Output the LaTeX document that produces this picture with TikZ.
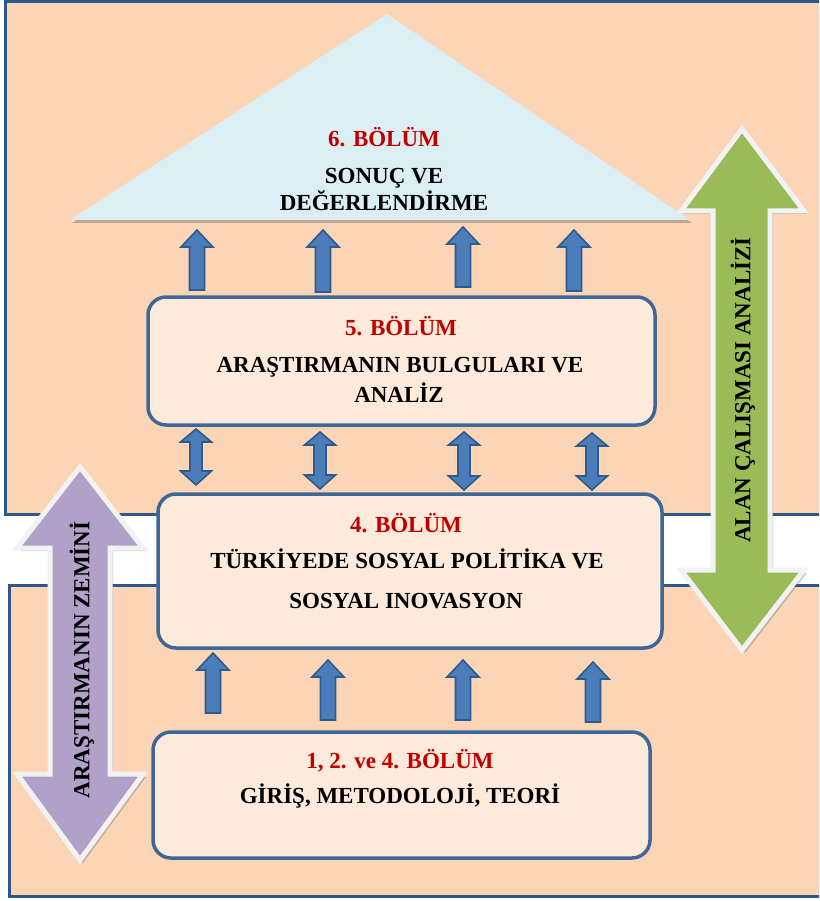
\documentclass[tikz,border=0pt]{standalone}
\usepackage{fontspec}
\setmainfont{Liberation Serif}
\usetikzlibrary{shadows}
\definecolor{peach}{HTML}{FBD5B5}
\definecolor{boxfill}{HTML}{FDEADA}
\definecolor{frameblue}{HTML}{2F5788}
\definecolor{boxblue}{HTML}{3D6797}
\definecolor{arrblue}{HTML}{4A7DBA}
\definecolor{arrline}{HTML}{2F5A8C}
\definecolor{trifill}{HTML}{DAEEF3}
\definecolor{grn}{HTML}{9BBB59}
\definecolor{prp}{HTML}{B1A0C7}
\definecolor{redtxt}{HTML}{C00000}
\definecolor{wline}{HTML}{F2F2F2}
\newcommand\UpBlk[3]{\draw[blk] (#1,#2) -- ({#1+16},{#2+17}) -- ({#1+7.5},{#2+17}) -- ({#1+7.5},#3) -- ({#1-7.5},#3) -- ({#1-7.5},{#2+17}) -- ({#1-16},{#2+17}) -- cycle;}
\newcommand\DblBlk[3]{\draw[blk] (#1,#2) -- ({#1+15.5},{#2+13}) -- ({#1+6},{#2+13}) -- ({#1+6},{#3-14}) -- ({#1+15.5},{#3-14}) -- (#1,#3) -- ({#1-15.5},{#3-14}) -- ({#1-6},{#3-14}) -- ({#1-6},{#2+13}) -- ({#1-15.5},{#2+13}) -- cycle;}
\begin{document}
\begin{tikzpicture}[x=1pt,y=-1pt,
  frame/.style={draw=frameblue, line width=3pt, fill=peach},
  chapbox/.style={draw=boxblue, line width=3.5pt, fill=boxfill, rounded corners=18pt, inner sep=0pt},
  blk/.style={fill=arrblue, draw=arrline, line width=1.6pt, line join=miter},
  bigarr/.style={draw=wline, line width=5pt, line join=miter,
     drop shadow={shadow xshift=3pt, shadow yshift=-3pt, opacity=0.35, fill=black!60}},
  lbl/.style={font=\fontsize{23}{27}\selectfont\bfseries, inner sep=0pt, anchor=base},
  redlbl/.style={lbl, text=redtxt},
  vlbl/.style={font=\fontsize{23}{27}\selectfont\bfseries, inner sep=0pt, rotate=90}
]
\useasboundingbox (0,0) rectangle (819,901);
\clip (0,0) rectangle (819,901);
\fill[white] (0,0) rectangle (819,901);
% frames
\draw[frame] (5,1.5) rectangle (845,514);
\draw[frame] (9,585) rectangle (845,896);
% roof triangle
\fill[trifill, drop shadow={shadow xshift=2pt, shadow yshift=-3pt, opacity=0.4, fill=black!60}]
  (387,14) -- (690,220) -- (70,220) -- cycle;
% blue block arrows
\UpBlk{197}{230}{290}
\UpBlk{323}{230}{292}
\UpBlk{463}{227}{287}
\UpBlk{574}{230}{291}
\DblBlk{196}{429}{485}
\DblBlk{320}{432}{489}
\DblBlk{464}{432}{490}
\DblBlk{592}{433}{490}
\UpBlk{213}{653}{713}
\UpBlk{328}{660}{720}
\UpBlk{463}{660}{720}
\UpBlk{593}{662}{722}
% chapter boxes
\node[chapbox, minimum width=507pt, minimum height=128pt] (b5) at (401.5,361) {};
\node[chapbox, minimum width=504pt, minimum height=154pt] (b4) at (410,571) {};
\node[chapbox, minimum width=497pt, minimum height=126pt] (b1) at (401.5,795) {};
% texts
\node[redlbl] (t6a) at (384,147) {6. BÖLÜM};
\node[lbl] (t6b) at (384,184) {SONUÇ VE};
\node[lbl] (t6c) at (384,211) {DEĞERLENDİRME};
\node[redlbl] (t5a) at (401,335) {5. BÖLÜM};
\node[lbl] (t5b) at (400,372) {ARAŞTIRMANIN BULGULARI VE};
\node[lbl] (t5c) at (399,402) {ANALİZ};
\node[redlbl] (t4a) at (406,532) {4. BÖLÜM};
\node[lbl] (t4b) at (407,568) {TÜRKİYEDE SOSYAL POLİTİKA VE};
\node[lbl] (t4c) at (406,608) {SOSYAL INOVASYON};
\node[redlbl] (t1a) at (400,768) {1, 2. ve 4. BÖLÜM};
\node[lbl] (t1b) at (400,803) {GİRİŞ, METODOLOJİ, TEORİ};
% big side arrows
\draw[bigarr, fill=prp] (80,467) -- (143,548) -- (110,548) -- (110,774) -- (143,774) -- (80,860)
  -- (17,774) -- (50,774) -- (50,548) -- (17,548) -- cycle;
\draw[bigarr, fill=grn] (742,129) -- (804,211) -- (770,211) -- (770,570) -- (804,570) -- (742,650)
  -- (681,570) -- (713,570) -- (713,211) -- (681,211) -- cycle;
\node[vlbl] (tp) at (82,660) {ARAŞTIRMANIN ZEMİNİ};
\node[vlbl] (tg) at (743,390) {ALAN ÇALIŞMASI ANALİZİ};
\end{tikzpicture}
\end{document}
